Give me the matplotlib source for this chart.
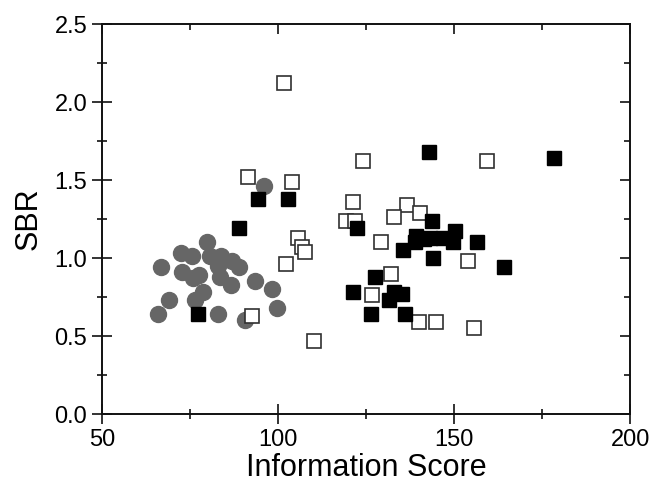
import numpy as np
import matplotlib
matplotlib.use("Agg")
import matplotlib.pyplot as plt
from matplotlib.ticker import MultipleLocator, NullFormatter

plt.rcParams['font.family'] = ['Liberation Sans', 'DejaVu Sans']

# gray circles
circ_x = [96.0, 79.9, 72.4, 75.5, 66.7, 80.7, 83.8, 87.0, 88.9, 72.8, 77.6, 75.9,
          83.0, 83.5, 86.6, 93.5, 98.2, 78.8, 76.4, 69.2, 99.6, 66.0, 82.9, 90.6]
circ_y = [1.46, 1.10, 1.03, 1.01, 0.94, 1.01, 1.01, 0.98, 0.94, 0.91, 0.89, 0.87,
          0.95, 0.88, 0.83, 0.85, 0.80, 0.78, 0.73, 0.73, 0.68, 0.64, 0.64, 0.60]

# filled squares
fill_x = [94.4, 102.8, 89.0, 77.2, 142.9, 122.5, 143.8, 139.2, 138.9, 141.5, 143.2,
          147.0, 150.3, 149.8, 156.4, 135.4, 143.9, 164.2, 127.6, 121.2, 133.0,
          135.1, 131.6, 126.3, 136.1, 178.5]
fill_y = [1.38, 1.38, 1.19, 0.64, 1.68, 1.19, 1.24, 1.14, 1.10, 1.12, 1.13,
          1.13, 1.17, 1.10, 1.10, 1.05, 1.00, 0.94, 0.88, 0.78, 0.78,
          0.77, 0.73, 0.64, 0.64, 1.64]

# open squares
open_x = [91.6, 103.9, 101.7, 124.2, 159.3, 121.2, 136.6, 119.2, 121.9, 133.0, 140.3,
          129.2, 154.1, 132.1, 126.6, 140.1, 144.9, 155.7, 102.2, 92.5, 105.7, 106.8,
          107.7, 110.2]
open_y = [1.52, 1.49, 2.12, 1.62, 1.62, 1.36, 1.34, 1.24, 1.24, 1.26, 1.29,
          1.10, 0.98, 0.90, 0.76, 0.59, 0.59, 0.55, 0.96, 0.63, 1.13, 1.07,
          1.04, 0.47]

fig = plt.figure(figsize=(6.53, 4.84), dpi=100)
ax = fig.add_axes([0.156, 0.1446, 0.809, 0.8058])

ax.plot(circ_x, circ_y, 'o', ms=11.5, color='#666666', mec='#666666', zorder=2)
ax.plot(open_x, open_y, 's', ms=10, mfc='white', mec='#303030', mew=1.2, zorder=3)
ax.plot(fill_x, fill_y, 's', ms=10, color='black', mec='black', zorder=4)

ax.set_xlim(50, 200)
ax.set_ylim(0, 2.5)
ax.xaxis.set_major_locator(MultipleLocator(50))
ax.xaxis.set_minor_locator(MultipleLocator(25))
ax.yaxis.set_major_locator(MultipleLocator(0.5))
ax.yaxis.set_minor_locator(MultipleLocator(0.25))
ax.yaxis.set_major_formatter(plt.FormatStrFormatter('%.1f'))

ax.tick_params(which='both', direction='inout', labelsize=17, width=1.2,
               color='#111111')
ax.tick_params(which='major', length=14)
ax.tick_params(which='minor', length=7)
for s in ax.spines.values():
    s.set_linewidth(1.4)
    s.set_color('#111111')

# inward ticks on the right and top edges
for sec in (ax.secondary_yaxis('right'), ax.secondary_xaxis('top')):
    sec.tick_params(which='both', direction='in', width=1.2, color='#111111')
    sec.tick_params(which='major', length=7)
    sec.tick_params(which='minor', length=4)
    sec.spines[:].set_linewidth(1.4)
    sec.set_frame_on(False)
r, t = ax.child_axes[0], ax.child_axes[1]
r.yaxis.set_major_locator(MultipleLocator(0.5))
r.yaxis.set_minor_locator(MultipleLocator(0.25))
r.yaxis.set_major_formatter(NullFormatter())
t.xaxis.set_major_locator(MultipleLocator(50))
t.xaxis.set_minor_locator(MultipleLocator(25))
t.xaxis.set_major_formatter(NullFormatter())

ax.set_xlabel('Information Score', fontsize=22, labelpad=2)
ax.set_ylabel('SBR', fontsize=22, labelpad=8)

fig.savefig('out.png', dpi=100)
